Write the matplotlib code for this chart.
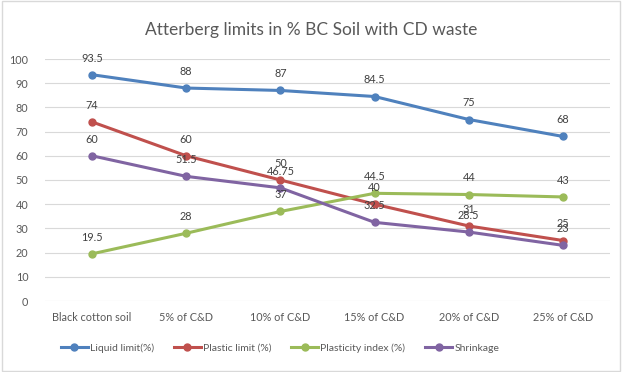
import matplotlib
matplotlib.use("Agg")
import matplotlib.pyplot as plt
from matplotlib.patches import Rectangle

categories = ["Black cotton soil", "5% of C&D", "10% of C&D", "15% of C&D", "20% of C&D", "25% of C&D"]
liquid_limit = [93.5, 88, 87, 84.5, 75, 68]
plastic_limit = [74, 60, 50, 40, 31, 25]
plasticity_index = [19.5, 28, 37, 44.5, 44, 43]
shrinkage = [60, 51.5, 46.75, 32.5, 28.5, 23]
series_names = ["Liquid limit(%)", "Plastic limit (%)", "Plasticity index (%)", "Shrinkage"]
colors = ["#4F81BD", "#C0504D", "#9BBB59", "#8064A2"]
yticks = [0, 10, 20, 30, 40, 50, 60, 70, 80, 90, 100]

plt.rcParams['font.family'] = ['Lato', 'DejaVu Sans']
fig = plt.figure(figsize=(6.22, 3.72), dpi=100)
fig.patches.append(Rectangle((0.004, 0.004), 0.992, 0.992, transform=fig.transFigure,
                             fill=False, edgecolor="#D9D9D9", linewidth=1))
ax = fig.add_axes([45/622, 1-301/372, 565/622, 242/372])
x = list(range(len(categories)))
for vals, name, c in zip([liquid_limit, plastic_limit, plasticity_index, shrinkage], series_names, colors):
    ax.plot(x, vals, color=c, linewidth=2.2, marker='o', markersize=5, label=name, zorder=3)
    for xi, v in zip(x, vals):
        ax.annotate(f"{v:g}", (xi, v), xytext=(0, 8), textcoords="offset points",
                    ha="center", va="bottom", fontsize=7.8, color="#404040", zorder=4)
ax.set_xlim(-0.5, len(categories) - 0.5)
ax.set_ylim(0, 100)
ax.set_yticks(yticks)
ax.set_xticks(x)
ax.set_xticklabels(categories)
ax.grid(axis='y', color="#D9D9D9", linewidth=0.8, zorder=0)
for s in ax.spines.values():
    s.set_visible(False)
ax.tick_params(length=0, labelsize=7.8, labelcolor="#595959")
ax.tick_params(axis='x', pad=8)
ax.tick_params(axis='y', pad=12)
fig.text(0.5, 1-30/372, "Atterberg limits in % BC Soil with CD waste", ha="center", va="center",
         fontsize=12.5, color="#595959")
fig.legend(loc="center", bbox_to_anchor=(280/622, 1-348/372), ncol=4, frameon=False,
           fontsize=7.5, labelcolor="#595959", handlelength=2.6, columnspacing=1.9, handletextpad=0.2)
fig.savefig("out.png", dpi=100)
